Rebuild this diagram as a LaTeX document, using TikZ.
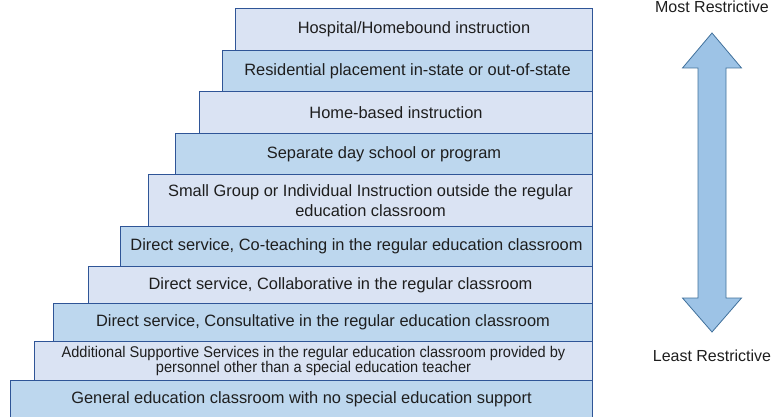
\documentclass[tikz,border=0pt]{standalone}
\usepackage{fontspec}
\setmainfont{Liberation Sans}
\newfontfamily\narrowfont[FakeStretch=0.94]{Liberation Sans}
\usepackage{xcolor}
\definecolor{lightblue}{RGB}{218,227,243}
\definecolor{midblue}{RGB}{189,215,238}
\definecolor{borderblue}{RGB}{47,85,151}
\definecolor{arrowblue}{RGB}{157,195,230}
\definecolor{arrowborder}{RGB}{65,113,156}
\definecolor{textgray}{RGB}{30,30,30}

\begin{document}
\begin{tikzpicture}[x=1pt, y=-1pt]
    % Define styles
    \tikzstyle{level} = [rectangle, anchor=north west, draw=borderblue, line width=1pt, inner sep=0pt, align=center, text=textgray, font=\fontsize{16.4}{19.5}\selectfont]
    \tikzstyle{lightlevel} = [level, fill=lightblue]
    \tikzstyle{darklevel} = [level, fill=midblue]
    \tikzstyle{endtext} = [anchor=base, text=textgray, font=\fontsize{16}{19}\selectfont]

    \useasboundingbox (0,0) rectangle (778,417);

    % Levels, most restrictive on top
    \node [lightlevel, minimum width=357pt, minimum height=42pt] (hospital) at (235,8) {Hospital/Homebound instruction};
    \node [darklevel, minimum width=370pt, minimum height=41pt] (residential) at (222,50) {Residential placement in-state or out-of-state};
    \node [lightlevel, minimum width=393pt, minimum height=42pt] (homebased) at (199,91) {Home-based instruction};
    \node [darklevel, minimum width=417pt, minimum height=41pt] (separate) at (175,133) {Separate day school or program};
    \node [lightlevel, minimum width=444pt, minimum height=52pt] (smallgroup) at (148,174) {Small Group or Individual Instruction outside the regular\\education classroom};
    \node [darklevel, minimum width=472pt, minimum height=40pt] (coteaching) at (120,226) {Direct service, Co-teaching in the regular education classroom};
    \node [lightlevel, minimum width=504pt, minimum height=37pt] (collaborative) at (88,266) {Direct service, Collaborative in the regular classroom};
    \node [darklevel, minimum width=539pt, minimum height=38pt] (consultative) at (53,303) {Direct service, Consultative in the regular education classroom};
    \node [lightlevel, minimum width=558pt, minimum height=39pt, font=\narrowfont\fontsize{15.5}{12.5}\selectfont] (supportive) at (34,341) {Additional Supportive Services in the regular education classroom provided by\\personnel other than a special education teacher};
    \node [darklevel, minimum width=582pt, minimum height=38pt] (general) at (10,380) {General education classroom with no special education support};

    % Restrictiveness arrow
    \draw [fill=arrowblue, draw=arrowborder, line width=0.8pt] (712,33) -- (741.5,68) -- (726,68) -- (726,298) -- (741.5,298) -- (712,332) -- (682.5,298) -- (698,298) -- (698,68) -- (682.5,68) -- cycle;
    \node [endtext] (most) at (712,13) {Most Restrictive};
    \node [endtext] (least) at (712,361) {Least Restrictive};
\end{tikzpicture}
\end{document}
